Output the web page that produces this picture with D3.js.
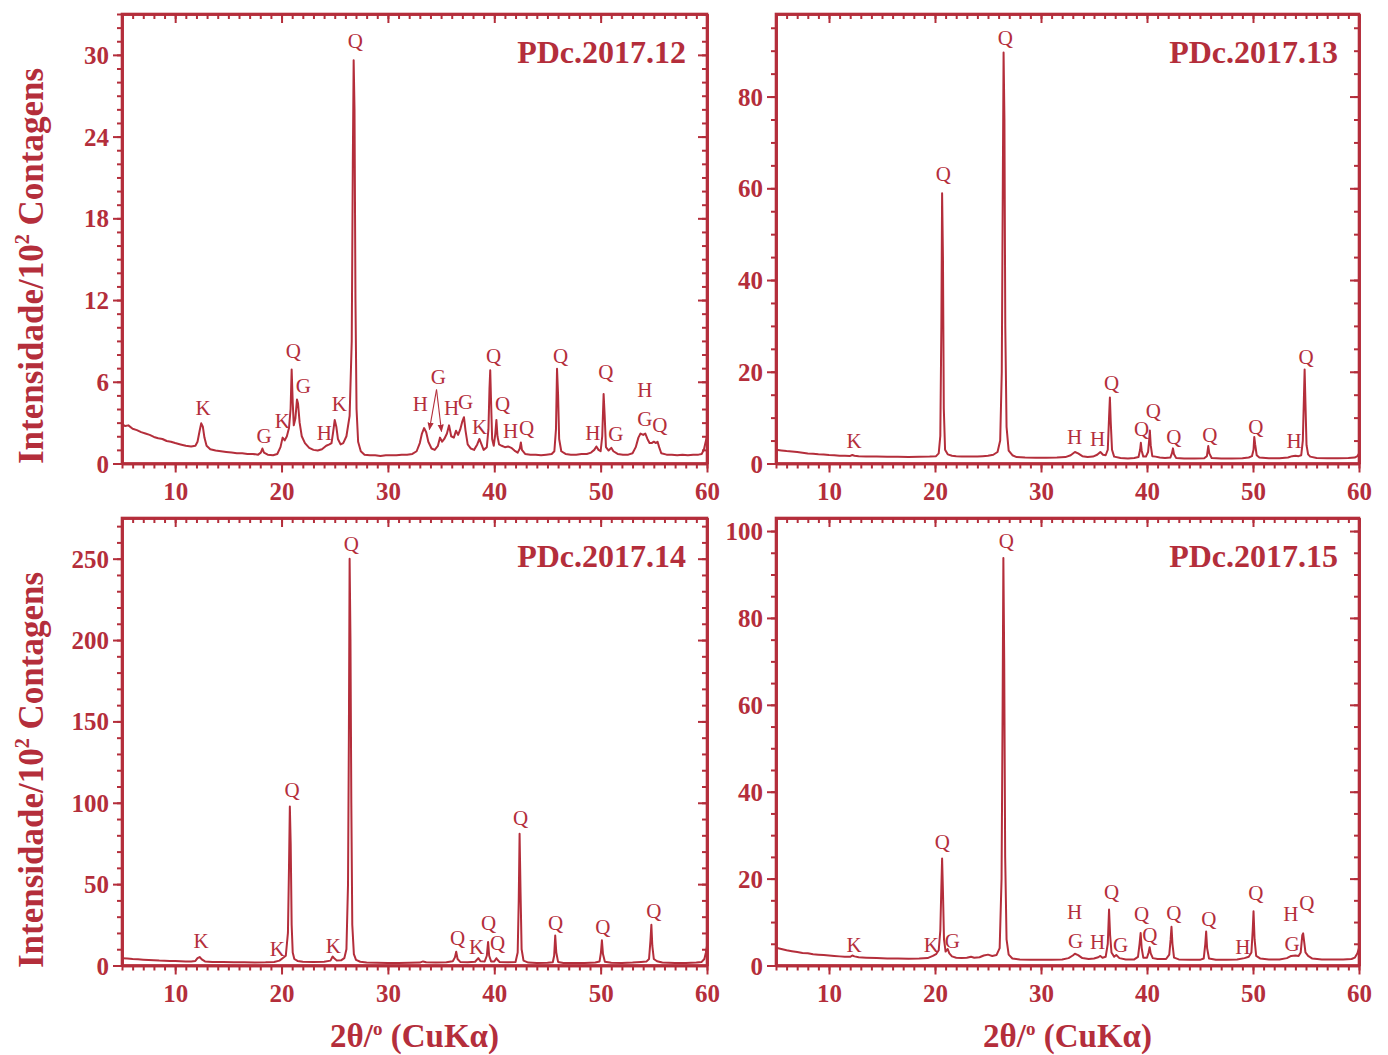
<!DOCTYPE html>
<html><head><meta charset="utf-8">
<script src="https://cdn.jsdelivr.net/npm/d3@7"></script>
<style>body{margin:0;background:#fff}</style>
</head><body>
<svg id="chart" width="1388" height="1055"></svg>
<script>
const COLOR = "#b42e3b";
const FONT = "'Liberation Serif','Times New Roman',serif";

// 2θ range and x ticks
const xDomain = [5, 60];
const xMajorTicks = [10, 20, 30, 40, 50, 60];
const xMinorTicks = d3.range(5, 61, 1);

// ---- PDc.2017.12 ----
const pdc12 = [[5.0,2.9],[5.3,2.75],[5.6,2.8],[6.0,2.55],[6.4,2.45],[6.8,2.3],[7.2,2.2],[7.6,2.1],[8.0,1.95],[8.4,1.85],[8.8,1.8],[9.2,1.65],[9.6,1.6],[10.0,1.5],[10.5,1.4],[11.0,1.3],[11.5,1.25],[11.9,1.3],[12.1,1.6],[12.3,2.4],[12.45,2.95],[12.6,2.7],[12.75,1.9],[12.95,1.3],[13.3,1.05],[13.8,0.95],[14.3,0.9],[14.8,0.85],[15.3,0.8],[15.8,0.75],[16.3,0.75],[16.8,0.7],[17.3,0.7],[17.8,0.65],[18.05,0.8],[18.2,1.1],[18.35,0.8],[18.7,0.65],[19.2,0.6],[19.6,0.7],[19.9,1.2],[20.1,1.9],[20.3,1.7],[20.5,2.0],[20.7,2.6],[20.85,4.0],[20.95,6.9],[21.05,4.5],[21.15,2.8],[21.3,3.3],[21.45,4.7],[21.55,4.4],[21.7,3.0],[21.9,2.0],[22.2,1.5],[22.6,1.15],[23.0,1.0],[23.4,0.95],[23.8,1.05],[24.2,1.3],[24.5,1.4],[24.7,1.5],[24.85,2.3],[25.0,3.2],[25.15,2.7],[25.3,1.8],[25.55,1.4],[25.8,1.5],[26.1,2.0],[26.4,3.5],[26.6,9],[26.7,22],[26.78,29.6],[26.86,26],[26.95,12],[27.05,4],[27.2,1.6],[27.45,0.9],[27.8,0.65],[28.3,0.6],[28.8,0.6],[29.3,0.55],[29.8,0.6],[30.3,0.6],[30.8,0.6],[31.3,0.65],[31.8,0.65],[32.3,0.7],[32.7,0.9],[33.0,1.5],[33.2,2.2],[33.4,2.6],[33.6,2.3],[33.8,1.6],[34.1,1.1],[34.4,1.0],[34.7,1.3],[34.9,1.9],[35.1,1.6],[35.3,1.8],[35.55,2.2],[35.75,2.8],[35.95,2.0],[36.2,1.9],[36.4,2.4],[36.6,2.1],[36.8,2.5],[37.0,3.1],[37.15,3.4],[37.3,2.4],[37.5,1.4],[37.8,1.1],[38.1,1.0],[38.4,1.4],[38.6,1.8],[38.8,1.4],[39.0,1.0],[39.3,1.2],[39.45,2.5],[39.55,5.5],[39.62,6.85],[39.7,4.5],[39.8,1.8],[39.95,1.3],[40.1,2.2],[40.2,3.2],[40.3,2.0],[40.45,1.4],[40.7,1.3],[41.0,1.2],[41.3,1.25],[41.6,1.15],[41.9,0.95],[42.2,0.8],[42.4,1.1],[42.5,1.55],[42.6,1.0],[42.9,0.7],[43.4,0.65],[43.9,0.65],[44.4,0.6],[44.9,0.65],[45.4,0.7],[45.65,0.9],[45.8,2.5],[45.9,6.95],[46.0,5.0],[46.1,1.8],[46.3,0.9],[46.7,0.7],[47.2,0.65],[47.7,0.65],[48.2,0.7],[48.7,0.7],[49.1,0.8],[49.4,1.0],[49.6,1.25],[49.8,1.0],[50.0,0.9],[50.15,2.0],[50.28,5.1],[50.38,3.5],[50.5,1.2],[50.75,0.95],[51.0,1.15],[51.2,0.9],[51.6,0.7],[52.1,0.65],[52.6,0.65],[53.0,0.75],[53.3,1.2],[53.55,1.9],[53.75,2.2],[54.0,2.1],[54.2,2.2],[54.4,1.8],[54.6,1.5],[54.8,1.5],[55.0,1.6],[55.2,1.5],[55.35,1.6],[55.5,1.2],[55.7,0.75],[56.2,0.65],[56.7,0.65],[57.2,0.6],[57.7,0.65],[58.2,0.6],[58.7,0.65],[59.2,0.65],[59.5,0.7],[59.7,1.0],[59.85,1.5],[60.0,2.0]];
const lab12 = [["K",12.63,4.11],["G",18.37,2.05],["K",20.07,3.15],["Q",21.1,8.29],["G",22.04,5.72],["H",24.02,2.27],["K",25.43,4.40],["Q",26.94,31.03],["H",33.06,4.40],["G",34.75,6.38],["H",35.98,4.11],["G",37.30,4.55],["K",38.62,2.71],["Q",39.93,7.92],["Q",40.78,4.40],["H",41.53,2.42],["Q",43.04,2.64],["Q",46.24,7.92],["Q",50.48,6.75],["H",49.26,2.27],["G",51.42,2.20],["H",54.15,5.43],["G",54.15,3.30],["Q",55.56,2.86]];
const arrows12 = [[34.57,5.43,33.9,2.49],[34.57,5.43,35.04,2.35]];
const yMajor12 = d3.range(0, 31, 6);
const yMinor12 = d3.range(0, 34, 1);

// ---- PDc.2017.13 ----
const pdc13 = [[5.0,3.0],[5.5,2.85],[6,2.7],[6.5,2.6],[7,2.5],[7.5,2.35],[8,2.2],[8.5,2.1],[9,2.0],[9.5,1.95],[10,1.85],[10.5,1.8],[11,1.7],[11.5,1.7],[12,1.65],[12.2,1.85],[12.4,1.7],[12.8,1.6],[13.5,1.55],[14.5,1.5],[15.5,1.45],[16.5,1.45],[17.5,1.4],[18.5,1.45],[19.5,1.5],[20.1,1.6],[20.35,2.2],[20.5,6],[20.6,30],[20.67,58.9],[20.75,45],[20.83,12],[20.95,3],[21.2,2.0],[21.6,1.7],[22,1.6],[22.5,1.55],[23,1.5],[23.5,1.55],[24,1.5],[24.5,1.6],[25,1.7],[25.5,1.9],[25.9,2.5],[26.15,5],[26.3,20],[26.4,62],[26.47,89.6],[26.55,75],[26.63,30],[26.75,8],[26.95,2.8],[27.3,1.8],[27.7,1.4],[28.5,1.3],[29.5,1.25],[30.5,1.25],[31.5,1.3],[32.3,1.4],[32.8,1.8],[33.2,2.5],[33.5,2.2],[33.9,1.6],[34.4,1.4],[34.9,1.5],[35.3,1.9],[35.6,2.5],[35.85,1.9],[36.1,1.8],[36.3,3],[36.42,10],[36.5,14.4],[36.58,9],[36.7,3],[36.9,1.5],[37.5,1.2],[38.2,1.1],[38.8,1.2],[39.2,1.4],[39.35,3],[39.42,4.5],[39.5,2.8],[39.65,1.5],[39.9,1.5],[40.1,2.5],[40.2,5],[40.27,7.2],[40.35,4],[40.5,1.6],[40.8,1.5],[41.2,1.3],[41.7,1.2],[42.2,1.3],[42.35,2.2],[42.45,3.3],[42.55,2.0],[42.75,1.2],[43.5,1.1],[44.5,1.1],[45.4,1.15],[45.65,1.6],[45.78,3.8],[45.88,2.2],[46.1,1.2],[47,1.1],[48,1.1],[49,1.15],[49.6,1.3],[49.9,1.6],[50.05,3],[50.12,5.8],[50.2,4.2],[50.35,1.8],[50.6,1.3],[51.5,1.15],[52.5,1.15],[53.3,1.3],[53.7,1.6],[54.0,1.7],[54.3,1.6],[54.55,1.8],[54.7,5],[54.8,14],[54.87,20.5],[54.95,13],[55.05,4],[55.2,2.0],[55.4,1.5],[56,1.2],[57,1.15],[58,1.15],[59,1.2],[59.6,1.3],[59.85,1.6],[60,2.2]];
const lab13 = [["K",12.37,5.01],["Q",20.78,63.2],["Q",26.64,92.86],["H",33.17,5.89],["H",35.34,5.45],["Q",36.66,17.66],["Q",39.5,7.6],["Q",40.6,11.6],["Q",42.52,5.89],["Q",45.93,6.32],["Q",50.27,8.07],["H",53.87,5.01],["Q",55.0,23.32]];
const yMajor13 = d3.range(0, 81, 20);
const yMinor13 = d3.range(0, 96, 5);

// ---- PDc.2017.14 ----
const pdc14 = [[5,4.5],[5.5,4.3],[6,4.0],[6.5,3.8],[7,3.6],[7.5,3.4],[8,3.2],[8.5,3.0],[9,2.9],[9.5,2.8],[10,2.7],[10.5,2.6],[11,2.5],[11.5,2.5],[11.9,2.8],[12.1,4.5],[12.3,5.2],[12.5,3.8],[12.8,2.5],[13.5,2.2],[14.5,2.1],[15.5,2.0],[16.5,2.0],[17.5,1.9],[18.5,2.0],[19.3,2.2],[19.8,3.0],[20.1,4.5],[20.4,6],[20.6,20],[20.7,60],[20.78,97.7],[20.86,75],[20.95,25],[21.05,8],[21.2,4],[21.5,2.8],[22,2.3],[23,2.1],[24,2.3],[24.6,3.0],[24.8,5.5],[24.95,4.5],[25.2,3.0],[25.6,3.2],[25.9,4.5],[26.1,10],[26.25,50],[26.33,140],[26.4,250],[26.48,200],[26.56,100],[26.65,25],[26.8,7],[27,3.5],[27.4,2.3],[28,1.8],[29,1.7],[30,1.6],[31,1.6],[32,1.7],[33,1.8],[33.3,2.5],[33.6,2.0],[34.5,1.8],[35.5,2.0],[36.1,2.6],[36.3,5],[36.42,8.5],[36.55,4],[36.8,2.2],[37.5,2.0],[38.2,2.3],[38.5,4.5],[38.7,2.6],[39.1,2.5],[39.3,6],[39.42,14.5],[39.52,6],[39.7,2.5],[40.0,2.4],[40.2,4.5],[40.3,3.5],[40.5,2.2],[41.2,2.0],[42,2.2],[42.2,8],[42.3,40],[42.38,81],[42.47,45],[42.57,10],[42.75,3],[43.2,1.8],[44,1.6],[45,1.7],[45.5,2.0],[45.63,6],[45.73,18.4],[45.83,8],[46.0,2.2],[46.5,1.6],[47.5,1.5],[48.5,1.6],[49.5,1.8],[49.9,2.5],[50.03,8],[50.12,15.5],[50.22,7],[50.4,2.3],[51,1.7],[52,1.6],[53,1.8],[53.8,2.2],[54.3,2.4],[54.55,4],[54.68,15],[54.77,25],[54.86,12],[55.0,4],[55.3,2.6],[55.8,1.8],[57,1.6],[58,1.6],[59,1.8],[59.5,2.2],[59.75,4],[59.9,8],[60,12]];
const lab14 = [["K",12.44,15.4],["K",19.6,10.4],["Q",21.0,108.1],["K",24.87,12.3],["Q",26.56,259.2],["Q",36.54,17.2],["K",38.33,11.7],["Q",39.46,26.4],["Q",40.31,14.1],["Q",42.48,90.9],["Q",45.77,26.4],["Q",50.2,24.0],["Q",55.0,33.8]];
const yMajor14 = d3.range(0, 251, 50);
const yMinor14 = d3.range(0, 271, 10);

// ---- PDc.2017.15 ----
const pdc15 = [[5,4.1],[5.5,3.8],[6,3.5],[6.5,3.3],[7,3.1],[7.5,2.9],[8,2.8],[8.5,2.6],[9,2.5],[9.5,2.4],[10,2.3],[10.5,2.2],[11,2.1],[11.5,2.0],[12,2.0],[12.2,2.3],[12.4,2.1],[12.8,1.9],[13.5,1.8],[14.5,1.7],[15.5,1.6],[16.5,1.6],[17.5,1.55],[18.5,1.6],[19.3,1.7],[19.8,2.2],[20.1,2.6],[20.35,3.5],[20.5,8],[20.6,18],[20.67,24.6],[20.75,17],[20.85,6],[21.0,3.2],[21.2,3.8],[21.35,2.8],[21.6,2.1],[22,1.8],[22.5,1.7],[23,1.8],[23.4,2.0],[23.7,1.8],[24.2,1.9],[24.6,2.3],[25.0,2.5],[25.4,2.2],[25.8,2.4],[26.1,4],[26.28,20],[26.38,60],[26.45,93.8],[26.53,70],[26.62,25],[26.75,6],[26.95,2.5],[27.3,1.6],[28,1.4],[29,1.35],[30,1.3],[31,1.35],[32,1.4],[32.6,1.7],[33.0,2.3],[33.2,2.7],[33.5,2.4],[33.9,1.7],[34.5,1.5],[35.0,1.6],[35.4,1.9],[35.6,2.2],[35.8,1.8],[36.1,2.0],[36.3,5],[36.42,12.9],[36.52,7],[36.65,3],[36.9,2.0],[37.1,2.4],[37.4,1.7],[38,1.4],[38.8,1.4],[39.15,2],[39.3,5],[39.4,7.5],[39.5,4],[39.65,1.8],[40.0,1.8],[40.15,3],[40.25,4.2],[40.35,2.8],[40.55,1.7],[41,1.5],[41.8,1.5],[42.1,2.5],[42.23,6],[42.31,8.9],[42.4,5],[42.55,1.8],[43,1.4],[44,1.3],[45,1.3],[45.35,1.6],[45.5,5],[45.58,7.8],[45.67,4],[45.85,1.6],[46.5,1.3],[47.5,1.3],[48.5,1.4],[49.2,1.7],[49.6,2.0],[49.85,3],[49.97,8],[50.05,12.5],[50.15,6],[50.3,2.2],[50.7,1.6],[51.5,1.4],[52.5,1.4],[53.2,1.7],[53.6,2.2],[54.0,2.3],[54.3,2.2],[54.5,3],[54.65,7],[54.73,7.4],[54.8,6],[54.95,3],[55.2,2.2],[55.6,1.6],[56.5,1.4],[57.5,1.4],[58.5,1.4],[59.3,1.5],[59.6,1.8],[59.85,2.8],[60,4]];
const lab15 = [["K",12.37,4.83],["K",19.65,4.83],["G",21.63,5.75],["Q",20.69,28.5],["Q",26.74,97.7],["H",33.17,12.4],["G",33.26,5.75],["H",35.34,5.52],["Q",36.66,17.0],["G",37.51,4.83],["Q",39.5,11.95],["Q",40.26,7.13],["Q",42.52,12.18],["Q",45.83,10.8],["Q",50.27,16.78],["H",49.05,4.37],["H",53.58,11.95],["Q",55.09,14.48],["G",53.68,5.06]];
const yMajor15 = d3.range(0, 101, 20);
const yMinor15 = d3.range(0, 101, 5);

const titles = ["PDc.2017.12", "PDc.2017.13", "PDc.2017.14", "PDc.2017.15"];

const panels = [
  {title: titles[0], data: pdc12, labels: lab12, arrows: arrows12, yMax: 33, yMajor: yMajor12, yMinor: yMinor12, L: 122, T: 14, R: 707, B: 463.5},
  {title: titles[1], data: pdc13, labels: lab13, arrows: [], yMax: 98, yMajor: yMajor13, yMinor: yMinor13, L: 776, T: 14, R: 1359, B: 463.5},
  {title: titles[2], data: pdc14, labels: lab14, arrows: [], yMax: 275, yMajor: yMajor14, yMinor: yMinor14, L: 122, T: 518, R: 707, B: 965.5},
  {title: titles[3], data: pdc15, labels: lab15, arrows: [], yMax: 103, yMajor: yMajor15, yMinor: yMinor15, L: 776, T: 518, R: 1359, B: 965.5}
];

const svg = d3.select("#chart");
const defs = svg.append("defs");
defs.append("marker").attr("id", "arrowhead").attr("viewBox", "0 0 10 10")
  .attr("refX", 9).attr("refY", 5).attr("markerWidth", 7).attr("markerHeight", 7)
  .attr("orient", "auto-start-reverse")
  .append("path").attr("d", "M0,1 L10,5 L0,9 z").attr("fill", COLOR);

function styleAxis(g) {
  g.select(".domain").attr("stroke", COLOR).attr("stroke-width", 2.6);
  g.selectAll(".tick line").attr("stroke", COLOR).attr("stroke-width", 2);
  g.attr("font-family", null).attr("font-size", null);
  g.selectAll(".tick text").attr("fill", COLOR)
    .style("font-family", FONT).style("font-weight", "bold").style("font-size", "25px");
}

panels.forEach((p, i) => {
  const x = d3.scaleLinear().domain(xDomain).range([p.L, p.R]);
  const y = d3.scaleLinear().domain([0, p.yMax]).range([p.B, p.T]);
  const g = svg.append("g");

  const clipId = "clip" + i;
  defs.append("clipPath").attr("id", clipId).append("rect")
    .attr("x", p.L).attr("y", p.T).attr("width", p.R - p.L).attr("height", p.B - p.T);

  // trace
  g.append("path").datum(p.data)
    .attr("clip-path", `url(#${clipId})`)
    .attr("fill", "none").attr("stroke", COLOR).attr("stroke-width", 2)
    .attr("stroke-linejoin", "round")
    .attr("d", d3.line().x(d => x(d[0])).y(d => y(d[1])));

  // axes: bottom (out), top (in), left (out), right (in)
  const bMin = g.append("g").attr("transform", `translate(0,${p.B})`)
    .call(d3.axisBottom(x).tickValues(xMinorTicks).tickSize(5).tickSizeOuter(0).tickFormat(""));
  styleAxis(bMin);
  const bMaj = g.append("g").attr("transform", `translate(0,${p.B})`)
    .call(d3.axisBottom(x).tickValues(xMajorTicks).tickSize(9).tickSizeOuter(0).tickPadding(10).tickFormat(d3.format("d")));
  styleAxis(bMaj);

  const tMin = g.append("g").attr("transform", `translate(0,${p.T})`)
    .call(d3.axisTop(x).tickValues(xMinorTicks).tickSize(-5).tickSizeOuter(0).tickFormat(""));
  styleAxis(tMin);
  const tMaj = g.append("g").attr("transform", `translate(0,${p.T})`)
    .call(d3.axisTop(x).tickValues(xMajorTicks).tickSize(-9).tickSizeOuter(0).tickFormat(""));
  styleAxis(tMaj);

  const lMin = g.append("g").attr("transform", `translate(${p.L},0)`)
    .call(d3.axisLeft(y).tickValues(p.yMinor).tickSize(5).tickSizeOuter(0).tickFormat(""));
  styleAxis(lMin);
  const lMaj = g.append("g").attr("transform", `translate(${p.L},0)`)
    .call(d3.axisLeft(y).tickValues(p.yMajor).tickSize(9).tickSizeOuter(0).tickPadding(4).tickFormat(d3.format("d")));
  styleAxis(lMaj);
  lMaj.selectAll(".tick text").attr("dy", "0.34em");

  const rMin = g.append("g").attr("transform", `translate(${p.R},0)`)
    .call(d3.axisRight(y).tickValues(p.yMinor).tickSize(-5).tickSizeOuter(0).tickFormat(""));
  styleAxis(rMin);
  const rMaj = g.append("g").attr("transform", `translate(${p.R},0)`)
    .call(d3.axisRight(y).tickValues(p.yMajor).tickSize(-9).tickSizeOuter(0).tickFormat(""));
  styleAxis(rMaj);

  // close the frame
  g.append("rect").attr("x", p.L).attr("y", p.T).attr("width", p.R - p.L).attr("height", p.B - p.T)
    .attr("fill", "none").attr("stroke", COLOR).attr("stroke-width", 2.6);

  // title
  g.append("text").attr("x", p.R - 21).attr("y", p.T + 49).attr("text-anchor", "end")
    .attr("fill", COLOR).style("font-family", FONT).style("font-weight", "bold").style("font-size", "32px")
    .text(p.title);

  // phase labels
  g.selectAll("text.lab").data(p.labels).join("text").attr("class", "lab")
    .attr("x", d => x(d[1])).attr("y", d => y(d[2])).attr("dy", "0.35em")
    .attr("text-anchor", "middle").attr("fill", COLOR)
    .style("font-family", FONT).style("font-size", "21px")
    .text(d => d[0]);

  // arrows
  g.selectAll("line.arr").data(p.arrows).join("line").attr("class", "arr")
    .attr("x1", d => x(d[0])).attr("y1", d => y(d[1]))
    .attr("x2", d => x(d[2])).attr("y2", d => y(d[3]))
    .attr("stroke", COLOR).attr("stroke-width", 1.1).attr("marker-end", "url(#arrowhead)");
});

// Y-axis titles
[266, 770].forEach(cy => {
  const t = svg.append("text").attr("transform", `translate(43,${cy}) rotate(-90)`)
    .attr("text-anchor", "middle").attr("fill", COLOR)
    .style("font-family", FONT).style("font-weight", "bold").style("font-size", "35px");
  t.append("tspan").text("Intensidade/10");
  t.append("tspan").attr("dy", -14).style("font-size", "20px").text("2");
  t.append("tspan").attr("dy", 14).text(" Contagens");
});

// X-axis titles
[414.5, 1067.5].forEach(cx => {
  const t = svg.append("text").attr("x", cx).attr("y", 1047)
    .attr("text-anchor", "middle").attr("fill", COLOR)
    .style("font-family", FONT).style("font-weight", "bold").style("font-size", "33px");
  t.append("tspan").text("2θ/");
  t.append("tspan").attr("dy", -12).style("font-size", "19px").text("o");
  t.append("tspan").attr("dy", 12).text(" (CuKα)");
});
</script>
</body></html>
